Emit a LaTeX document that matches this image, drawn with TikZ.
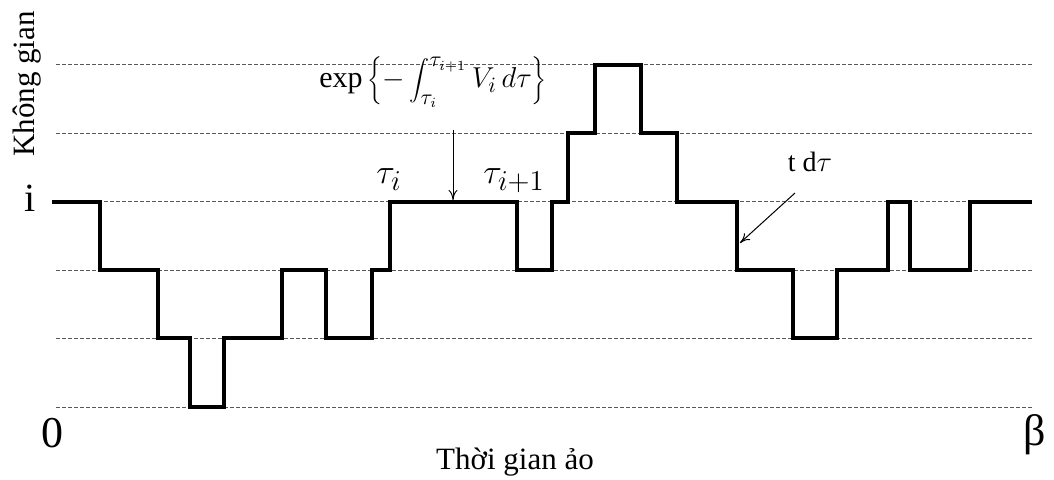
\documentclass[tikz,border=0pt]{standalone}
\usepackage{fontspec}
\setmainfont{Liberation Serif}
\usetikzlibrary{arrows.meta}

\tikzset{
	levelline/.style={black!65, line width=0.5pt, dash pattern=on 2pt off 1pt},
	pathline/.style={line width=2pt, line join=miter},
	pointer/.style={line width=0.5pt, -{To[length=5pt, width=4.5pt]}},
	lbl/.style={inner sep=0pt, font=\fontsize{15.5}{18}\selectfont},
	biglbl/.style={inner sep=0pt, font=\fontsize{22}{26}\selectfont}
}

\begin{document}
\begin{tikzpicture}[x=0.5pt, y=-0.5pt]
	\useasboundingbox (0, 0) rectangle (1054, 480);
	% dashed levels
	\foreach \k in {0, 1, ..., 5}{
		\draw[levelline] (56, 65 + 68.4*\k) -- (1032, 65 + 68.4*\k);
	}
	% world line
	\draw[pathline] (52, 202) -| (100, 270) -| (158, 338) -| (190, 407)
		-| (224, 338) -| (282, 270) -| (326, 338) -| (372, 270) -| (390, 202)
		-| (517, 270) -| (552, 202) -| (568, 133) -| (595, 65) -| (641, 133)
		-| (677, 202) -| (737, 270) -| (793, 338) -| (837, 270) -| (888, 202)
		-| (910, 270) -| (970, 202) -- (1032, 202);
	% labels
	\node[lbl, rotate=90] (space) at (27, 84) {Không gian};
	\node[inner sep=0pt, font=\fontsize{20}{24}\selectfont] (site) at (30, 198) {i};
	\node[biglbl] (zero) at (52, 433) {0};
	\node[biglbl] (beta) at (1035, 435) {β};
	\node[lbl] (time) at (515, 462) {Thời gian ảo};
	\node[inner sep=0pt, font=\fontsize{19}{22}\selectfont] (taui) at (389, 180) {$\tau_i$};
	\node[inner sep=0pt, font=\fontsize{19}{22}\selectfont] (tauj) at (514, 181) {$\tau_{i+1}$};
	\node[inner sep=0pt, font=\fontsize{14}{17}\selectfont] (hop) at (810, 162) {t d$\tau$};
	\node[inner sep=0pt, font=\fontsize{15}{18}\selectfont] (weight) at (433, 82)
		{$\displaystyle\exp\left\{-\int_{\tau_i}^{\tau_{i+1}} V_i\, d\tau\right\}$};
	% pointers
	\coordinate (wtop) at (453, 130);
	\coordinate (wend) at (453, 200);
	\coordinate (htop) at (795, 193);
	\coordinate (hend) at (740, 243);
	\draw[pointer] (wtop) -- (wend);
	\draw[pointer] (htop) -- (hend);
\end{tikzpicture}
\end{document}
